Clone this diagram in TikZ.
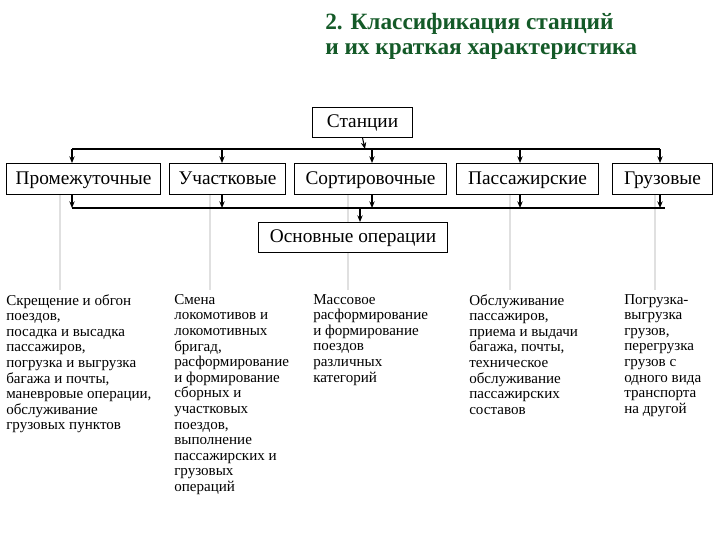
\documentclass[tikz,border=0pt]{standalone}
\usepackage{fontspec}
\setmainfont{Liberation Serif}
\usetikzlibrary{arrows.meta}
\definecolor{ttl}{RGB}{20,90,40}
\begin{document}
\begin{tikzpicture}[x=0.75pt,y=-0.75pt,
 box/.style={draw,thick,fill=white,inner sep=0pt,anchor=north west,align=center,text height=11pt,text depth=3pt,font=\fontsize{14.5}{16}\selectfont},
 arr/.style={thick,-{Stealth[length=5pt,width=4pt]}},
 desc/.style={anchor=north west,align=left,font=\fontsize{11.3}{11.7}\selectfont,inner sep=0pt},
 gl/.style={line width=2pt,color=black!12}]
\useasboundingbox (0,0) rectangle (720,540);
\node[anchor=north west,font=\bfseries\fontsize{17.5}{19}\selectfont,text=ttl,align=left,inner sep=0pt] (t) at (325,13) {2. Классификация станций\\и их краткая характеристика};
% gray lines
\foreach \x in {60,210,348,510,655}
  \draw[gl] (\x,194) -- (\x,290);
\node[box,minimum width=100*0.75pt,minimum height=30*0.75pt] (st) at (312,107) {Станции};
\foreach \n/\x/\w/\t in {a/6/154/Промежуточные,b/169/116/Участковые,c/294/152/Сортировочные,d/456/142/Пассажирские,e/612/100/Грузовые}
  \node[box,minimum width=\w*0.75pt,minimum height=31*0.75pt] (\n) at (\x,163) {\t};
\node[box,minimum width=189*0.75pt,minimum height=30*0.75pt] (op) at (258,222) {Основные операции};
% top bus
\draw[thick] (72,149) -- (660,149);
\draw[arr] (st.south) -- (365,149);
\foreach \n/\x in {a/72,b/222,c/372,d/520,e/660}
  \draw[arr] (\x,149) -- (\n.north -| {\x,0});
% bottom bus
\draw[thick] (72,208) -- (665,208);
\foreach \n/\x in {a/72,b/222,c/372,d/520,e/660}
  \draw[arr] (\n.south -| {\x,0}) -- (\x,208);
\draw[arr] (360,208) -- (op.north -| {360,0});
\node[desc] (da) at (6,294) {Скрещение и обгон\\поездов,\\посадка и высадка\\пассажиров,\\погрузка и выгрузка\\багажа и почты,\\маневровые операции,\\обслуживание\\грузовых пунктов};
\node[desc] (db) at (174,294) {Смена\\локомотивов и\\локомотивных\\бригад,\\расформирование\\и формирование\\сборных и\\участковых\\поездов,\\выполнение\\пассажирских и\\грузовых\\операций};
\node[desc] (dc) at (313,294) {Массовое\\расформирование\\и формирование\\поездов\\различных\\категорий};
\node[desc] (dd) at (469,294) {Обслуживание\\пассажиров,\\приема и выдачи\\багажа, почты,\\техническое\\обслуживание\\пассажирских\\составов};
\node[desc] (de) at (624,294) {Погрузка-\\выгрузка\\грузов,\\перегрузка\\грузов с\\одного вида\\транспорта\\на другой};
\end{tikzpicture}
\end{document}
